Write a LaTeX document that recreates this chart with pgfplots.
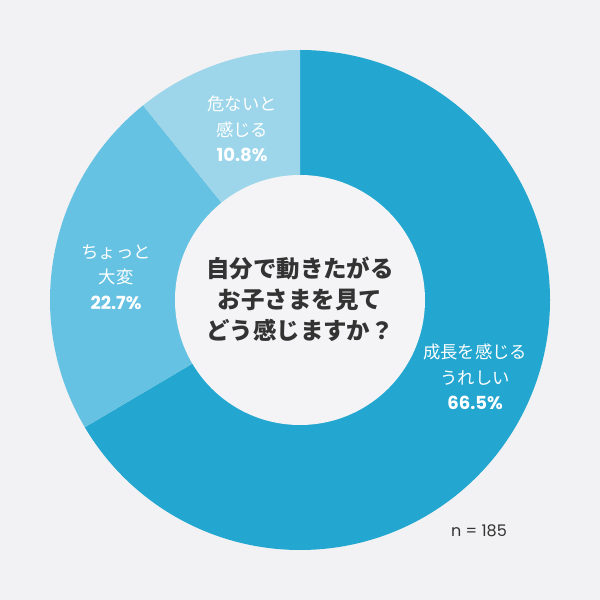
\documentclass[border=0pt]{standalone}
\usepackage{pgfplots}
\pgfplotsset{compat=1.18}
\usepackage{fontspec}
\setmainfont{Poppins}
\newfontfamily\jp{Noto Sans CJK JP}

\definecolor{bg}{HTML}{F2F2F4}
\definecolor{cA}{HTML}{23A6CF}
\definecolor{cB}{HTML}{66C2E2}
\definecolor{cC}{HTML}{9DD6EA}
\definecolor{hole}{HTML}{F4F4F6}
\definecolor{ink}{HTML}{333333}

% shares (percent), clockwise from the top
\def\vA{66.5}
\def\vB{22.7}
\def\vC{10.8}
\pgfmathsetmacro\aA{90-3.6*\vA}
\pgfmathsetmacro\aB{\aA-3.6*\vB}
\pgfmathsetmacro\aC{\aB-3.6*\vC}
% 1 px = 0.75pt
\def\ro{187.5pt}
\def\ri{93.75pt}

\begin{document}
\begin{tikzpicture}
\begin{axis}[
    hide axis,
    scale only axis,
    width=450pt, height=450pt,
    xmin=0, xmax=600, ymin=0, ymax=600,
    clip=false,
    ]
    \fill[bg] (axis cs:0,0) rectangle (axis cs:600,600);
    \fill[cA] (axis cs:300,300) -- ++(90:\ro) arc[start angle=90, end angle=\aA, radius=\ro] -- cycle;
    \fill[cB] (axis cs:300,300) -- ++(\aA:\ro) arc[start angle=\aA, end angle=\aB, radius=\ro] -- cycle;
    \fill[cC] (axis cs:300,300) -- ++(\aB:\ro) arc[start angle=\aB, end angle=\aC, radius=\ro] -- cycle;
    \fill[hole] (axis cs:300,300) circle[radius=\ri];

    \node[align=center, text=ink, font=\jp\bfseries\fontsize{17.6}{23.25}\selectfont]
        at (axis cs:300,301) {自分で動きたがる\\お子さまを見て\\どう感じますか？};

    \node[align=center, text=white, font=\jp\fontsize{13}{19}\selectfont]
        at (axis cs:242,471) {危ないと\\感じる\\{\rmfamily\bfseries\fontsize{13.5}{19}\selectfont \vC\%}};
    \node[align=center, text=white, font=\jp\fontsize{13}{19}\selectfont]
        at (axis cs:116,323) {ちょっと\\大変\\{\rmfamily\bfseries\fontsize{13.5}{19}\selectfont \vB\%}};
    \node[align=center, text=white, font=\jp\fontsize{13}{19}\selectfont]
        at (axis cs:475,223) {成長を感じる\\うれしい\\{\rmfamily\bfseries\fontsize{13.5}{19}\selectfont \vA\%}};

    \node[text=ink, font=\fontsize{12}{14}\selectfont] at (axis cs:479,69) {n = 185};
\end{axis}
\end{tikzpicture}
\end{document}
